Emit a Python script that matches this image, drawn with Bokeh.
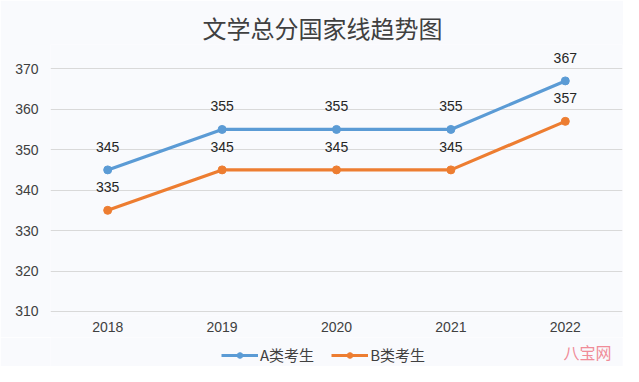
from bokeh.plotting import figure
from bokeh.layouts import column
from bokeh.core.properties import value
from bokeh.models import (Range1d, FactorRange, ColumnDataSource, LabelSet, Legend, LegendItem,
                          SingleIntervalTicker, Label)
from bokeh.embed import file_html
from bokeh.resources import INLINE

years = ["2018", "2019", "2020", "2021", "2022"]
series_a = [345, 355, 355, 355, 367]
series_b = [335, 345, 345, 345, 357]
name_a = "A类考生"
name_b = "B类考生"
title_text = "文学总分国家线趋势图"

BG = "#f9fafd"
BLUE = "#5b9bd5"
ORANGE = "#ed7d31"
FONT = "Noto Sans CJK SC"
NUMFONT = "Liberation Sans"

p = figure(x_range=FactorRange(*years, range_padding=0), y_range=Range1d(309, 376),
           frame_width=572, frame_height=271, output_backend="svg", toolbar_location=None,
           min_border_left=50, min_border_right=1, min_border_top=44, min_border_bottom=22,
           background_fill_color=BG, border_fill_color=BG, outline_line_color=None)

p.title.text = title_text
p.title.align = "left"
p.title.offset = 152
p.title.standoff = 0
p.title.text_font = FONT
p.title.text_font_size = "24px"
p.title.text_font_style = "normal"
p.title.text_color = "#404040"

src = ColumnDataSource(dict(x=years, a=series_a, b=series_b,
                            la=[str(v) for v in series_a], lb=[str(v) for v in series_b]))

la = p.line("x", "a", source=src, line_color=BLUE, line_width=3.2)
ca = p.scatter("x", "a", source=src, size=8, fill_color=BLUE, line_color=BLUE)
lb = p.line("x", "b", source=src, line_color=ORANGE, line_width=3.2)
cb = p.scatter("x", "b", source=src, size=8, fill_color=ORANGE, line_color=ORANGE)

for col, lab in (("a", "la"), ("b", "lb")):
    p.add_layout(LabelSet(x="x", y=col, text=lab, source=src, y_offset=23,
                          text_align="center", text_baseline="middle",
                          text_font=value(NUMFONT), text_font_size="14px", text_color="#262626"))

p.yaxis.ticker = SingleIntervalTicker(interval=10)
p.xgrid.grid_line_color = None
p.ygrid.grid_line_color = "#d9d9d9"
p.ygrid.grid_line_width = 1
for ax in (p.xaxis[0], p.yaxis[0]):
    ax.axis_line_color = None
    ax.major_tick_line_color = None
    ax.minor_tick_line_color = None
    ax.major_tick_out = 0
    ax.major_tick_in = 0
    ax.major_label_text_font = NUMFONT
    ax.major_label_text_font_size = "14px"
    ax.major_label_text_color = "#404040"
p.yaxis.major_label_standoff = 8
p.xaxis.major_label_standoff = 6

# legend strip (separate small figure below the chart); proxies lie outside its y range
p2 = figure(width=623, height=29, x_range=FactorRange(*years, range_padding=0),
            y_range=Range1d(0, 29), x_axis_location=None, y_axis_location=None,
            output_backend="svg", toolbar_location=None,
            min_border_left=0, min_border_right=0, min_border_top=0, min_border_bottom=0,
            background_fill_color=BG, border_fill_color=BG, outline_line_color=None)
p2.grid.visible = False
la2 = p2.line(years, series_a, line_color=BLUE, line_width=3.2)
ca2 = p2.scatter(years, series_a, size=6, fill_color=BLUE, line_color=BLUE)
lb2 = p2.line(years, series_b, line_color=ORANGE, line_width=3.2)
cb2 = p2.scatter(years, series_b, size=6, fill_color=ORANGE, line_color=ORANGE)
legend = Legend(items=[LegendItem(label=name_a, renderers=[la2, ca2]),
                       LegendItem(label=name_b, renderers=[lb2, cb2])],
                orientation="horizontal", location=(171, 1),
                background_fill_alpha=0, border_line_color=None,
                label_text_font=FONT, label_text_font_size="15px", label_text_color="#404040",
                glyph_width=37, glyph_height=14, label_standoff=2, spacing=17,
                padding=2, margin=0)
p2.add_layout(legend)
p2.add_layout(Label(x=513, y=15, x_units="screen", y_units="screen", text="八宝网",
                    text_align="left", text_baseline="middle", text_font=FONT,
                    text_font_size="16px", text_color="#f08c98"))

open("out.html", "w").write(file_html(column(p, p2), INLINE))
